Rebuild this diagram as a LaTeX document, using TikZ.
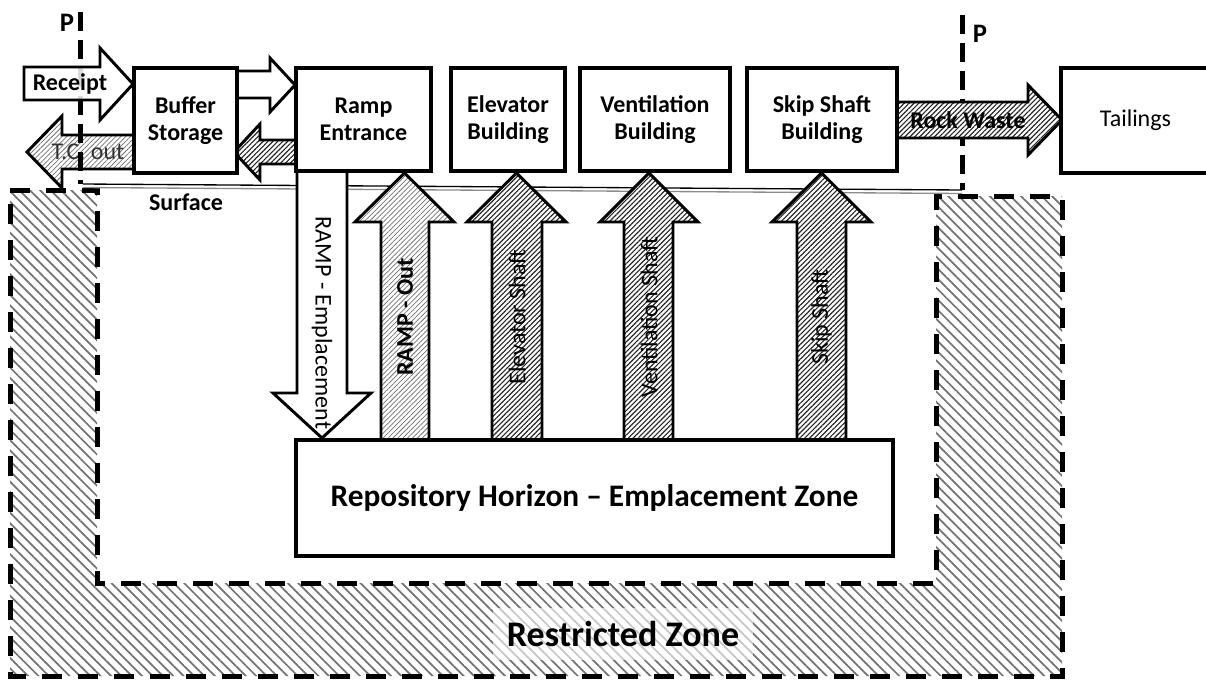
\documentclass[tikz,border=0pt]{standalone}
\usepackage{fontspec}
\setmainfont{Carlito}
\usetikzlibrary{patterns.meta}
\tikzset{
  box/.style={draw, line width=3pt, fill=white, inner sep=0pt, align=center,
    font=\fontsize{18}{20.5}\selectfont\bfseries},
  blk/.style={draw, line width=2.2pt, line join=miter},
  hollow/.style={blk, fill=white},
  darkhatch/.style={blk, preaction={fill=white},
    pattern={Lines[angle=45,distance=2.6pt,line width=0.85pt]}, pattern color=black!85},
  lighthatch/.style={blk, preaction={fill=white},
    pattern={Lines[angle=45,distance=2.6pt,line width=0.55pt]}, pattern color=black!55},
  zonehatch/.style={pattern={Lines[angle=-45,distance=5.5pt,line width=1.3pt]}, pattern color=black!55},
  bnd/.style={line width=3.75pt, dash pattern=on 14pt off 7pt},
  zdash/.style={line width=3.75pt, dash pattern=on 15pt off 12pt},
  lbl/.style={inner sep=0pt, font=\fontsize{18}{20}\selectfont},
  blbl/.style={inner sep=0pt, font=\fontsize{18}{20}\selectfont\bfseries},
}
\begin{document}
\begin{tikzpicture}[x=0.75pt, y=-0.75pt]
\useasboundingbox (0,0) rectangle (1206,679);
\fill[white] (0,0) rectangle (1206,679);

% restricted zone
\draw[zonehatch, zdash] (10,190) -- (97,190) -- (97,583) -- (936,583) -- (936,196)
  -- (1062,196) -- (1062,676) -- (10,676) -- cycle;
\fill[white, opacity=0.6] (493,608) rectangle (753,660);
\node[inner sep=0pt, font=\fontsize{27}{30}\selectfont\bfseries] (rz) at (623,634) {Restricted Zone};

% surface line
\coordinate (sl) at (83,184);
\coordinate (sr) at (962,190);
\draw[line width=1pt] (sl) -- (sr);
\draw[line width=1pt, black!45] (83,187.5) -- (962,193.5);

% T.C. out arrow
\draw[lighthatch] (134,135) -- (62,135) -- (62,116) -- (27,152) -- (62,188) -- (62,169) -- (134,169) -- cycle;
\node[lbl, text=black!80] (tc) at (88,152) {T.C. out};

% P boundary lines
\coordinate (pl) at (80,12);
\coordinate (pr) at (962,15);
\draw[bnd] (pl) -- (80,184);
\draw[bnd] (pr) -- (sr);

% Receipt arrow
\draw[blk, fill=white, fill opacity=0.85] (24,67) -- (100,67) -- (100,48) -- (133,84) -- (100,120) -- (100,100) -- (24,100) -- cycle;
\node[blbl] (rc) at (70,84) {Receipt};

% Buffer -> Ramp
\draw[hollow] (237,71) -- (270,71) -- (270,58) -- (295,85) -- (270,112) -- (270,98) -- (237,98) -- cycle;
% Ramp -> Buffer
\draw[darkhatch] (296,140) -- (260,140) -- (260,124) -- (234,152) -- (260,180) -- (260,164) -- (296,164) -- cycle;

% Rock waste
\draw[darkhatch] (897,102) -- (1028,102) -- (1028,85) -- (1062,120) -- (1028,155) -- (1028,138) -- (897,138) -- cycle;
\node[blbl] (rw) at (968,120) {Rock Waste};

% RAMP - Emplacement (down)
\draw[hollow] (297,171) -- (347,171) -- (347,393) -- (371,393) -- (322,438) -- (273,393) -- (297,393) -- cycle;
\node[lbl, rotate=-90] (re) at (322,323) {RAMP - Emplacement};

% up arrows
\draw[lighthatch] (381,440) -- (381,222) -- (355,222) -- (404.5,173) -- (454,222) -- (429,222) -- (429,440) -- cycle;
\node[blbl, rotate=90] (ro) at (405,317) {RAMP - Out};
\draw[darkhatch] (492,440) -- (492,222) -- (467,222) -- (516.5,173) -- (566,222) -- (542,222) -- (542,440) -- cycle;
\node[lbl, rotate=90] (es) at (517,317) {Elevator Shaft};
\draw[darkhatch] (624,440) -- (624,222) -- (600,222) -- (649,173) -- (698,222) -- (673,222) -- (673,440) -- cycle;
\node[lbl, rotate=90] (vs) at (649,317) {Ventilation Shaft};
\draw[darkhatch] (797,440) -- (797,222) -- (772,222) -- (821.5,173) -- (871,222) -- (846,222) -- (846,440) -- cycle;
\node[lbl, rotate=90] (ss) at (821.5,317) {Skip Shaft};

% boxes
\node[box, minimum width=77.25pt, minimum height=78.75pt] (buf) at (185.5,120.5) {Buffer\\Storage};
\node[box, minimum width=101.25pt, minimum height=77.25pt] (ramp) at (363.5,119.5) {Ramp\\Entrance};
\node[box, minimum width=85.5pt, minimum height=77.25pt] (elev) at (508,119.5) {Elevator\\Building};
\node[box, minimum width=112.5pt, minimum height=77.25pt] (vent) at (655,119.5) {Ventilation\\Building};
\node[box, minimum width=112.5pt, minimum height=77.25pt] (skip) at (822,119.5) {Skip Shaft\\Building};
\node[box, minimum width=111.75pt, minimum height=78.75pt, font=\fontsize{18}{20}\selectfont] (tail) at (1135.5,120.5) {Tailings};
\node[box, minimum width=447.75pt, minimum height=87pt, font=\fontsize{23.5}{26}\selectfont\bfseries] (repo) at (594.5,498) {Repository Horizon – Emplacement Zone};

% labels
\node[inner sep=0pt, font=\fontsize{20}{22}\selectfont\bfseries] (p1) at (67,23) {P};
\node[inner sep=0pt, font=\fontsize{20}{22}\selectfont\bfseries] (p2) at (980,34) {P};
\node[inner sep=0pt, font=\fontsize{18}{20}\selectfont\bfseries] (surf) at (186,202) {Surface};
\end{tikzpicture}
\end{document}
